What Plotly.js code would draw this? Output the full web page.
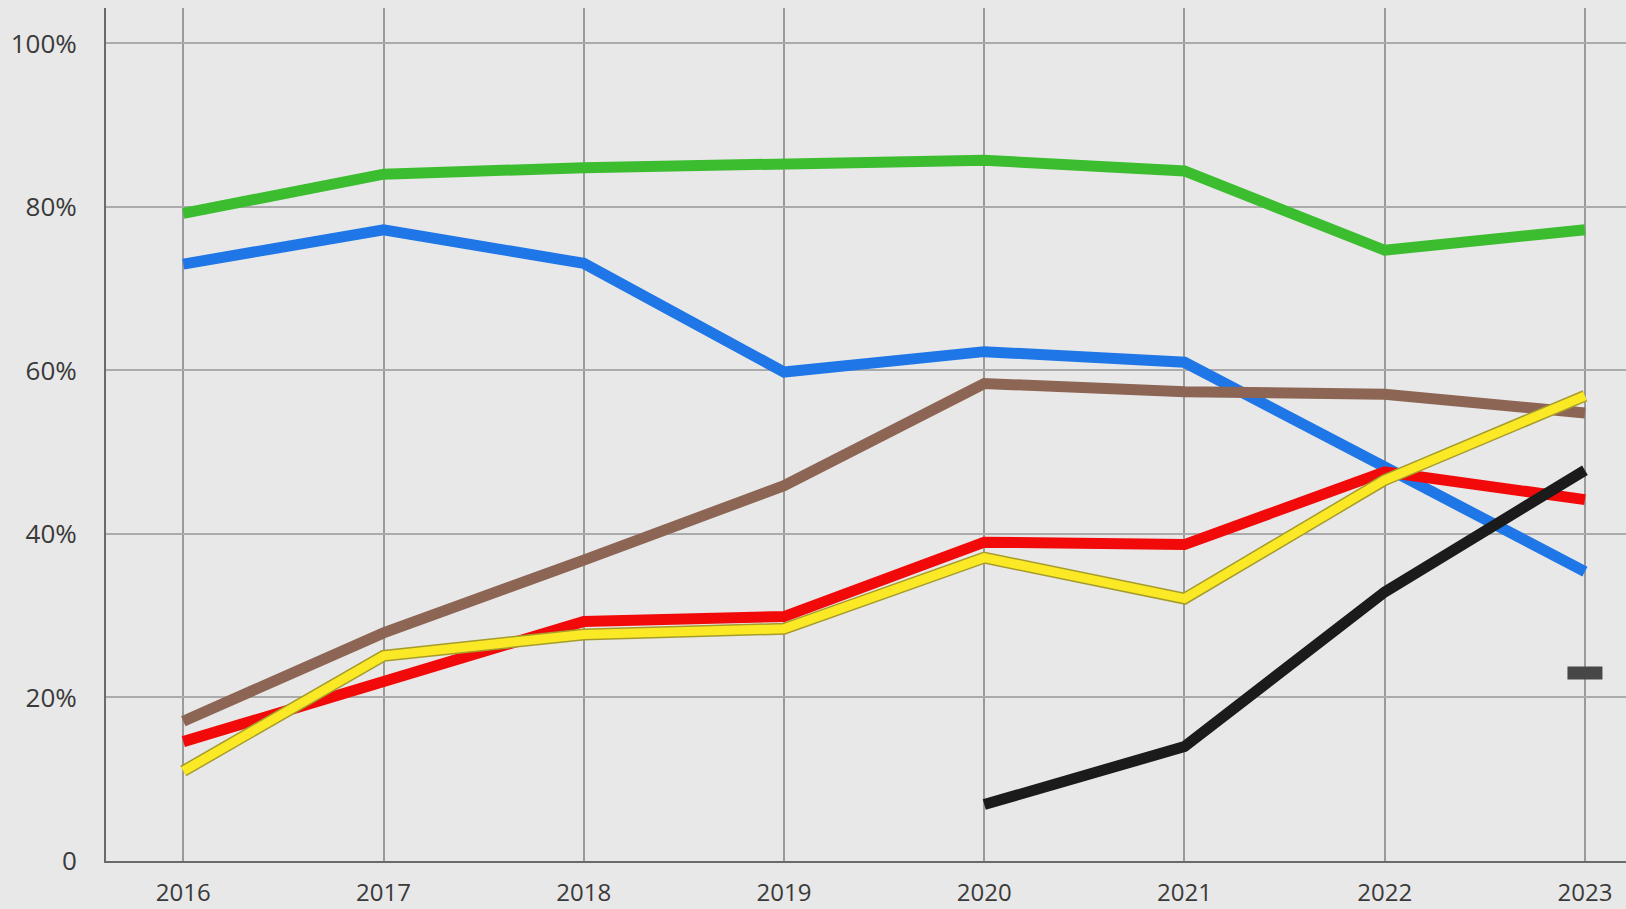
<!DOCTYPE html>
<html>
<head>
<meta charset="utf-8">
<script src="https://cdn.plot.ly/plotly-3.0.1.min.js"></script>
<style>html,body{margin:0;padding:0;background:#e8e8e8;}#chart{width:1626px;height:909px;}</style>
</head>
<body>
<div id="chart"></div>
<script>
const years = [2016, 2017, 2018, 2019, 2020, 2021, 2022, 2023];
const greenSeries = [79.2, 84.0, 84.8, 85.4, 85.7, 84.4, 74.7, 77.2];
const blueSeries = [73.0, 77.2, 73.1, 59.8, 62.3, 61.0, 48.2, 35.4];
const brownSeries = [17.1, 27.9, 36.8, 45.9, 58.4, 57.4, 57.1, 54.8];
const redSeries = [14.6, 22.0, 29.3, 29.9, 39.0, 38.7, 47.6, 44.2];
const yellowSeries = [11.0, 25.1, 27.7, 28.4, 37.1, 32.1, 46.6, 56.9];
const blackYears = [2020, 2021, 2022, 2023];
const blackSeries = [6.9, 14.0, 32.9, 47.8];
const markYears = [2023];
const markSeries = [23.0];
const yTickVals = [0, 20, 40, 60, 80, 100];
const yTickText = ["0", "20%", "40%", "60%", "80%", "100%"];
const xTickText = ["2016", "2017", "2018", "2019", "2020", "2021", "2022", "2023"];

function line(x, y, color, width) {
  return {x: x, y: y, type: 'scatter', mode: 'lines', line: {color: color, width: width}, hoverinfo: 'skip'};
}
const traces = [
  line(years, greenSeries, '#3cbd30', 11),
  line(years, blueSeries, '#1f76e6', 11),
  line(years, brownSeries, '#8c6554', 11),
  line(years, redSeries, '#f20a0a', 11),
  line(years, yellowSeries, '#a69c2c', 12),
  line(years, yellowSeries, '#fbe925', 9),
  line(blackYears, blackSeries, '#1b1b1b', 11),
  {x: markYears, y: markSeries, type: 'scatter', mode: 'markers',
   marker: {symbol: 'line-ew', size: 25, line: {width: 13, color: '#474747'}}, hoverinfo: 'skip'}
];
const layout = {
  width: 1626, height: 909,
  paper_bgcolor: '#e8e8e8', plot_bgcolor: '#e8e8e8',
  showlegend: false,
  margin: {l: 106, r: 0, t: 8, b: 48, pad: 0},
  font: {family: 'Open Sans', size: 24, color: '#3a3a3a'},
  xaxis: {
    range: [2015.614, 2023.205],
    tickvals: years, ticktext: xTickText,
    showgrid: true, gridcolor: '#9a9a9a', gridwidth: 2,
    showline: true, linecolor: '#6a6a6a', linewidth: 2,
    zeroline: false, ticks: '', ticklabelstandoff: 9,
    tickfont: {family: 'Open Sans', size: 24, color: '#3a3a3a'}
  },
  yaxis: {
    range: [0, 104.33],
    tickvals: yTickVals, ticktext: yTickText,
    showgrid: true, gridcolor: '#ababab', gridwidth: 2,
    showline: true, linecolor: '#6a6a6a', linewidth: 2,
    zeroline: false, ticks: '', ticklabelstandoff: 22,
    tickfont: {family: 'Open Sans', size: 26, color: '#3a3a3a'}
  }
};
Plotly.newPlot('chart', traces, layout, {staticPlot: true, displayModeBar: false});
</script>
</body>
</html>
